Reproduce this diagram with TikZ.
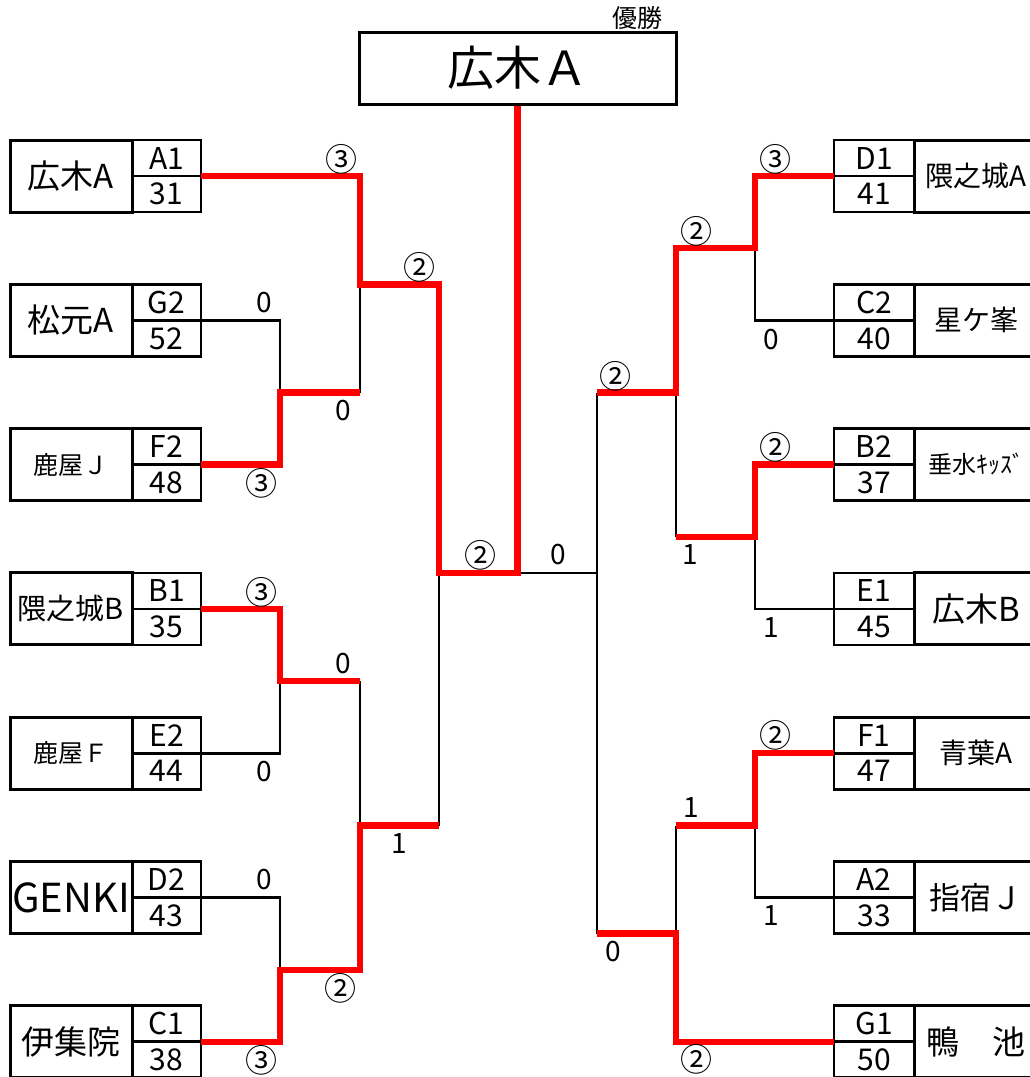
\documentclass[tikz,border=0pt]{standalone}
\usepackage{fontspec}
\setmainfont{Noto Sans CJK JP}
\usetikzlibrary{positioning}
\newcommand{\fsize}[1]{\fontsize{#1}{#1}\selectfont}

\begin{document}
\begin{tikzpicture}[x=1pt, y=-1pt,
    teamname/.style={draw, line width=3, minimum width=122, minimum height=72, inner sep=0, outer sep=0},
    rname/.style={teamname, minimum width=124},
    codecell/.style={draw, line width=2.7, minimum width=69, minimum height=36, inner sep=0, outer sep=0, font=\fsize{30}},
    rcode/.style={codecell, minimum width=80},
    win/.style={draw=red, line width=6.5},
    lose/.style={draw=black, line width=2.7},
    score/.style={inner sep=0, font=\fsize{28}},
    circled/.style={inner sep=0, font=\fsize{32}}]
    \useasboundingbox (0,0) rectangle (1029,1077);

    % champion
    \node (champ) [draw, line width=3, minimum width=317, minimum height=72, font=\fsize{47}] at (517.5,68) {広木Ａ};
    \node (title) [font=\fsize{25}] at (637,18) {優勝};

    % left teams
    \node (hirokiA) [teamname, font=\fsize{33}] at (71,176) {広木A};
    \node (matsumotoA) [teamname, font=\fsize{33}, below=72.3pt of hirokiA] {松元A};
    \node (kanoyaJ) [teamname, font=\fsize{25}, below=72.3pt of matsumotoA] {鹿屋Ｊ};
    \node (kumanojoB) [teamname, font=\fsize{29}, below=72.3pt of kanoyaJ] {隈之城B};
    \node (kanoyaF) [teamname, font=\fsize{25}, below=72.3pt of kumanojoB] {鹿屋Ｆ};
    \node (genki) [teamname, font=\fsize{40}, below=72.3pt of kanoyaF] {GENKI};
    \node (ijuin) [teamname, font=\fsize{33}, below=72.3pt of genki] {伊集院};

    \node (hirokiA-code) [codecell, anchor=south west] at (hirokiA.east) {A1};
    \node (hirokiA-no) [codecell, anchor=north west] at (hirokiA.east) {31};
    \node (matsumotoA-code) [codecell, anchor=south west] at (matsumotoA.east) {G2};
    \node (matsumotoA-no) [codecell, anchor=north west] at (matsumotoA.east) {52};
    \node (kanoyaJ-code) [codecell, anchor=south west] at (kanoyaJ.east) {F2};
    \node (kanoyaJ-no) [codecell, anchor=north west] at (kanoyaJ.east) {48};
    \node (kumanojoB-code) [codecell, anchor=south west] at (kumanojoB.east) {B1};
    \node (kumanojoB-no) [codecell, anchor=north west] at (kumanojoB.east) {35};
    \node (kanoyaF-code) [codecell, anchor=south west] at (kanoyaF.east) {E2};
    \node (kanoyaF-no) [codecell, anchor=north west] at (kanoyaF.east) {44};
    \node (genki-code) [codecell, anchor=south west] at (genki.east) {D2};
    \node (genki-no) [codecell, anchor=north west] at (genki.east) {43};
    \node (ijuin-code) [codecell, anchor=south west] at (ijuin.east) {C1};
    \node (ijuin-no) [codecell, anchor=north west] at (ijuin.east) {38};

    % right teams
    \node (kumanojoA) [rname, font=\fsize{28}] at (976,176) {隈之城A};
    \node (hoshigamine) [rname, font=\fsize{28}, below=72.3pt of kumanojoA] {星ケ峯};
    \node (tarumizu) [rname, font=\fsize{24}, below=72.3pt of hoshigamine] {垂水ｷｯｽﾞ};
    \node (hirokiB) [rname, font=\fsize{33}, below=72.3pt of tarumizu] {広木B};
    \node (aobaA) [rname, font=\fsize{28}, below=72.3pt of hirokiB] {青葉A};
    \node (ibusukiJ) [rname, font=\fsize{31}, below=72.3pt of aobaA] {指宿Ｊ};
    \node (kamoike) [rname, font=\fsize{33}, below=72.3pt of ibusukiJ] {鴨　池};

    \node (kumanojoA-code) [rcode, anchor=south east] at (kumanojoA.west) {D1};
    \node (kumanojoA-no) [rcode, anchor=north east] at (kumanojoA.west) {41};
    \node (hoshigamine-code) [rcode, anchor=south east] at (hoshigamine.west) {C2};
    \node (hoshigamine-no) [rcode, anchor=north east] at (hoshigamine.west) {40};
    \node (tarumizu-code) [rcode, anchor=south east] at (tarumizu.west) {B2};
    \node (tarumizu-no) [rcode, anchor=north east] at (tarumizu.west) {37};
    \node (hirokiB-code) [rcode, anchor=south east] at (hirokiB.west) {E1};
    \node (hirokiB-no) [rcode, anchor=north east] at (hirokiB.west) {45};
    \node (aobaA-code) [rcode, anchor=south east] at (aobaA.west) {F1};
    \node (aobaA-no) [rcode, anchor=north east] at (aobaA.west) {47};
    \node (ibusukiJ-code) [rcode, anchor=south east] at (ibusukiJ.west) {A2};
    \node (ibusukiJ-no) [rcode, anchor=north east] at (ibusukiJ.west) {33};
    \node (kamoike-code) [rcode, anchor=south east] at (kamoike.west) {G1};
    \node (kamoike-no) [rcode, anchor=north east] at (kamoike.west) {50};

    % bracket joints
    \coordinate (L1) at (280,392.5);
    \coordinate (L2) at (360,284.3);
    \coordinate (L3) at (280,681.2);
    \coordinate (L4) at (280,969.8);
    \coordinate (L5) at (360,825.5);
    \coordinate (L6) at (439,573);
    \coordinate (R1) at (755,248.2);
    \coordinate (R2) at (755,537);
    \coordinate (R3) at (676,392.6);
    \coordinate (R4) at (755,825.5);
    \coordinate (R5) at (676,933.7);
    \coordinate (R6) at (597,573);
    \coordinate (final) at (champ.south |- L6);

    % lost
    \draw[lose] (matsumotoA-code.south east) -| (L1);
    \draw[lose] (L1 -| L2) -- (L2);
    \draw[lose] (kanoyaF-code.south east) -| (L3);
    \draw[lose] (L3 -| L5) -- (L5);
    \draw[lose] (genki-code.south east) -| (L4);
    \draw[lose] (L5 -| L6) -- (L6);
    \draw[lose] (hoshigamine-code.south west) -| (R1);
    \draw[lose] (hirokiB-code.south west) -| (R2);
    \draw[lose] (R2 -| R3) -- (R3);
    \draw[lose] (ibusukiJ-code.south west) -| (R4);
    \draw[lose] (R4 -| R5) -- (R5);
    \draw[lose] (R3 -| R6) -- (R5 -| R6);
    \draw[lose] (R6) -- (final);

    % won
    \draw[win] (hirokiA-code.south east) -| (L2) -| (L6) -- (final) -- (champ.south);
    \draw[win] (kanoyaJ-code.south east) -| (L1) -- (L1 -| L2);
    \draw[win] (kumanojoB-code.south east) -| (L3) -- (L3 -| L5);
    \draw[win] (ijuin-code.south east) -| (L4) -| (L5) -- (L5 -| L6);
    \draw[win] (kumanojoA-code.south west) -| (R1) -| (R3) -- (R3 -| R6);
    \draw[win] (tarumizu-code.south west) -| (R2) -- (R2 -| R3);
    \draw[win] (aobaA-code.south west) -| (R4) -- (R4 -| R5);
    \draw[win] (kamoike-code.south west) -| (R5) -- (R5 -| R6);

    % scores left
    \node (hirokiA-s1) [circled] at (341,159) {③};
    \node (matsumotoA-s1) [score] at (264,303) {0};
    \node (kanoyaJ-s2) [score] at (343,411) {0};
    \node (hirokiA-s2) [circled] at (419,267) {②};
    \node (kanoyaJ-s1) [circled] at (261,483) {③};
    \node (hirokiA-s3) [circled] at (480,555) {②};
    \node (kumanojoB-s1) [circled] at (261,592) {③};
    \node (kumanojoB-s2) [score] at (343,664) {0};
    \node (kanoyaF-s1) [score] at (264,772) {0};
    \node (ijuin-s3) [score] at (399,844) {1};
    \node (genki-s1) [score] at (264,880) {0};
    \node (ijuin-s2) [circled] at (340,988) {②};
    \node (ijuin-s1) [circled] at (261,1060) {③};

    % scores right
    \node (kumanojoA-s3) [score] at (558,555) {0};
    \node (kumanojoA-s2) [circled] at (615,376) {②};
    \node (kamoike-s2) [score] at (613,952) {0};
    \node (kumanojoA-s1b) [circled] at (696,231) {②};
    \node (tarumizu-s2) [score] at (690,555) {1};
    \node (kumanojoA-s1) [circled] at (775,159) {③};
    \node (hoshigamine-s1) [score] at (771,340) {0};
    \node (tarumizu-s1) [circled] at (775,447) {②};
    \node (hirokiB-s1) [score] at (771,628) {1};
    \node (aobaA-s1) [circled] at (775,735) {②};
    \node (ibusukiJ-s1) [score] at (771,916) {1};
    \node (aobaA-s2) [score] at (691,808) {1};
    \node (kamoike-s1) [circled] at (696,1059) {②};
\end{tikzpicture}
\end{document}
